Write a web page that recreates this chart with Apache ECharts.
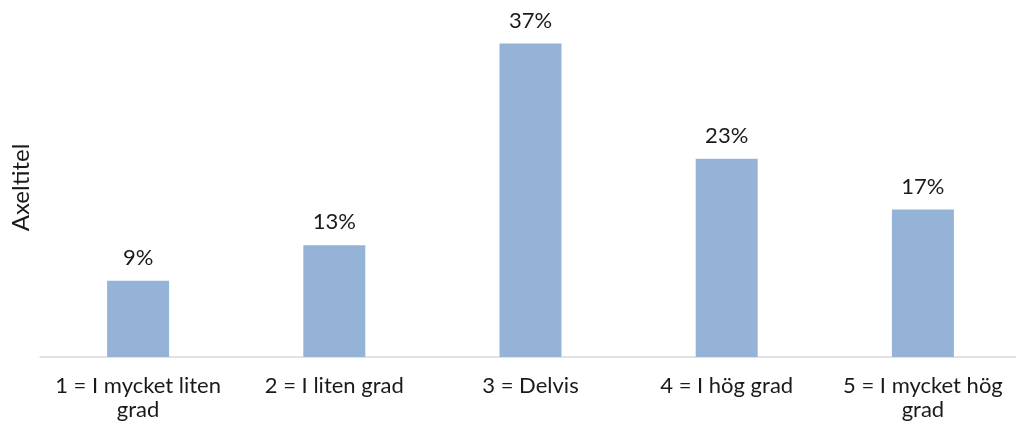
<!DOCTYPE html>
<html>
<head>
<meta charset="utf-8">
<script src="https://cdn.jsdelivr.net/npm/echarts@6/dist/echarts.min.js"></script>
<style>
  html, body { margin: 0; padding: 0; background: #fff; }
  #chart { width: 1016px; height: 432px; }
</style>
</head>
<body>
<div id="chart"></div>
<script>
const categories = [
  '1 = I mycket liten\ngrad',
  '2 = I liten grad',
  '3 = Delvis',
  '4 = I hög grad',
  '5 = I mycket hög\ngrad'
]
const values = [9.0, 13.2, 37.0, 23.4, 17.4]
const axisTitle = 'Axeltitel'

const chart = echarts.init(document.getElementById('chart'))

const option = {
  animation: false,
  grid: {
    left: 40,
    width: 981,
    top: 18,
    bottom: 75,
    containLabel: false,
    outerBoundsMode: 'none'
  },
  xAxis: {
    type: 'category',
    data: categories,
    axisLine: { lineStyle: { color: '#d9d9d9', width: 1.5 } },
    axisTick: { show: false },
    axisLabel: {
      interval: 0,
      margin: 17,
      fontFamily: 'Lato',
      fontSize: 22,
      lineHeight: 24,
      color: '#1a1a1a'
    }
  },
  yAxis: {
    type: 'value',
    min: 0,
    max: 40,
    axisLine: { show: false },
    axisTick: { show: false },
    axisLabel: { show: false },
    splitLine: { show: false },
    name: axisTitle,
    nameLocation: 'middle',
    nameGap: 7,
    nameTextStyle: {
      fontFamily: 'Lato',
      fontSize: 24,
      color: '#1a1a1a'
    }
  },
  series: [
    {
      type: 'bar',
      data: values,
      barWidth: 62,
      itemStyle: { color: '#95b3d7' },
      label: {
        show: true,
        position: 'top',
        distance: 12,
        fontFamily: 'Lato',
        fontSize: 22,
        color: '#1a1a1a',
        formatter: p => Math.round(p.value) + '%'
      }
    }
  ]
}

chart.setOption(option)

window.addEventListener('resize', () => {
  chart.resize()
})
</script>
</body>
</html>
